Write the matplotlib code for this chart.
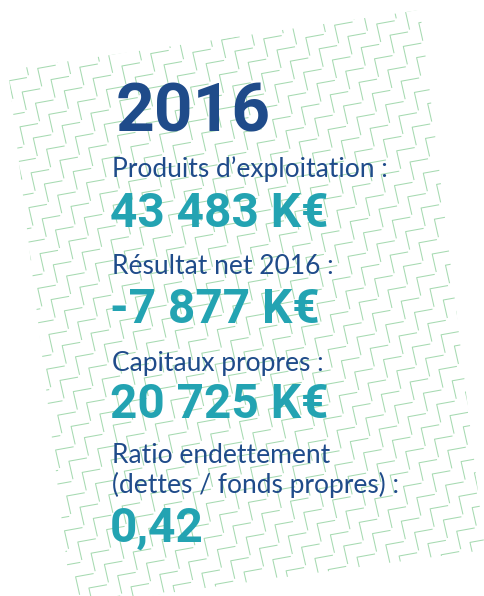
import numpy as np
import matplotlib
matplotlib.use("Agg")
import matplotlib.pyplot as plt
from matplotlib.collections import LineCollection
from matplotlib.patches import Polygon

# chiffres clés
year = "2016"
labels = ["Produits d\u2019exploitation :", "Résultat net 2016 :", "Capitaux propres :",
          "Ratio endettement\n(dettes / fonds propres) :"]
values = ["43 483 K€", "-7 877 K€", "20 725 K€", "0,42"]

dark_blue = "#1f4b8a"
teal = "#23a3b2"
green = "#a6dab1"

fig = plt.figure(figsize=(4.85, 5.96), dpi=100)
ax = fig.add_axes([0, 0, 1, 1])
ax.set_xlim(0, 485)
ax.set_ylim(596, 0)
ax.axis("off")

# fond : carte inclinée remplie de motifs en zigzag
card = Polygon([(8, 70), (420, 10), (485, 550), (72, 606)], closed=True,
               facecolor="none", edgecolor="none")
ax.add_patch(card)

h = np.array([20.0, -3.6])
v = np.array([4.5, 20.0])
a = np.array([13.3, 11.2])
b = v - h
segs = []
for i in range(-40, 60):
    for j in range(-40, 60):
        p = i * a + j * b
        if -40 < p[0] < 520 and -40 < p[1] < 640:
            segs.append([p + 0.9 * v, p, p + 0.9 * h])
lc = LineCollection(segs, colors=green, linewidths=0.75)
ax.add_collection(lc)
lc.set_clip_path(card)

ax.text(116, 131, year, fontsize=48.6, fontfamily="Roboto", fontweight="bold",
        color=dark_blue, va="baseline", ha="left")

label_base = [177, 274, 371, 463]
value_base = [227, 323, 418, 542]
for lab, val, yl, yv in zip(labels, values, label_base, value_base):
    for k, line in enumerate(lab.split("\n")):
        ax.text(112, yl + 30 * k, line, fontsize=19, fontfamily="Lato",
                color=dark_blue, va="baseline", ha="left")
    ax.text(110, yv, val, fontsize=34.4, fontfamily="Roboto", fontweight="bold",
            color=teal, va="baseline", ha="left")

fig.savefig("out.png", dpi=100)
